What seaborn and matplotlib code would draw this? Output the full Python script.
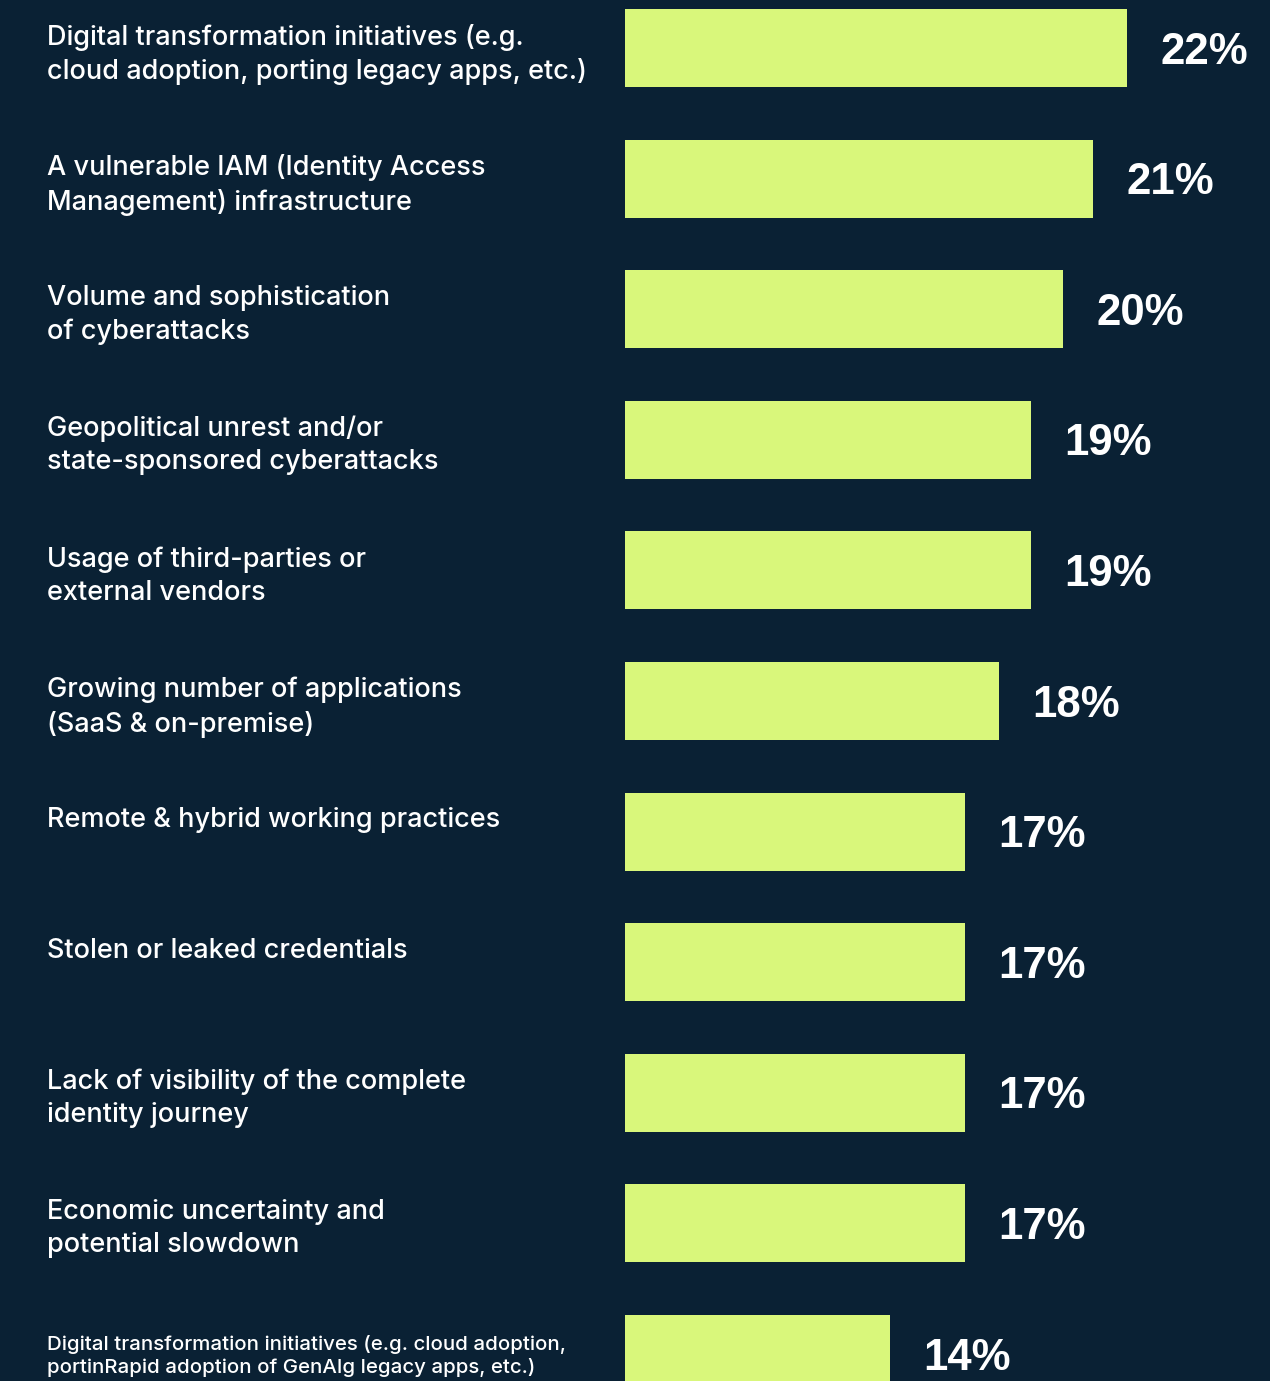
import numpy as np
import pandas as pd
import matplotlib
matplotlib.use("Agg")
import matplotlib.pyplot as plt
import matplotlib.transforms as mtransforms
import seaborn as sns

# categories, top to bottom
categories = [
    "Digital transformation initiatives (e.g.\ncloud adoption, porting legacy apps, etc.)",
    "A vulnerable IAM (Identity Access\nManagement) infrastructure",
    "Volume and sophistication\nof cyberattacks",
    "Geopolitical unrest and/or\nstate-sponsored cyberattacks",
    "Usage of third-parties or\nexternal vendors",
    "Growing number of applications\n(SaaS & on-premise)",
    "Remote & hybrid working practices",
    "Stolen or leaked credentials",
    "Lack of visibility of the complete\nidentity journey",
    "Economic uncertainty and\npotential slowdown",
    "Digital transformation initiatives (e.g. cloud adoption,\nportinRapid adoption of GenAIg legacy apps, etc.)",
]
# bar lengths as drawn (the graphic does not scale them exactly to the printed value)
bar_lengths = [22.0, 20.5, 19.2, 17.8, 17.8, 16.4, 14.9, 14.9, 14.9, 14.9, 11.6]
value_labels = ["22%", "21%", "20%", "19%", "19%", "18%", "17%", "17%", "17%", "17%", "14%"]

BG = "#0a2134"
BAR = "#d9f77b"

sns.set_style("white")
plt.rcParams["font.family"] = ["Inter", "DejaVu Sans"]

df = pd.DataFrame({"category": categories, "length": bar_lengths})

fig = plt.figure(figsize=(12.7, 13.81), dpi=100, facecolor=BG)
ax = fig.add_axes([0, 0, 1, 1])
ax.set_facecolor(BG)

sns.barplot(data=df, x="length", y="category", order=categories,
            color=BAR, saturation=1, width=0.597, orient="h",
            linewidth=0, ax=ax)

ax.set_xlim(-27.39, 28.27)
ax.set_ylim(10.207, -0.3675)
ax.set_axis_off()

trans = mtransforms.blended_transform_factory(ax.transAxes, ax.transData)
for i, (cat, length, lab) in enumerate(zip(categories, bar_lengths, value_labels)):
    last = i == len(categories) - 1
    ax.text(0.037, i - (0.145 if last else 0.185), cat, transform=trans,
            ha="left", va="top", color="white", fontweight="medium",
            fontsize=14.7 if last else 19.5, linespacing=1.24 if last else 1.35)
    ax.annotate(lab, xy=(length, i), xytext=(24, -3), textcoords="offset points",
                ha="left", va="center", color="white", fontsize=31.5,
                fontweight="bold", family=["Liberation Sans", "DejaVu Sans"])

fig.savefig("out.png", dpi=100, facecolor=BG)
